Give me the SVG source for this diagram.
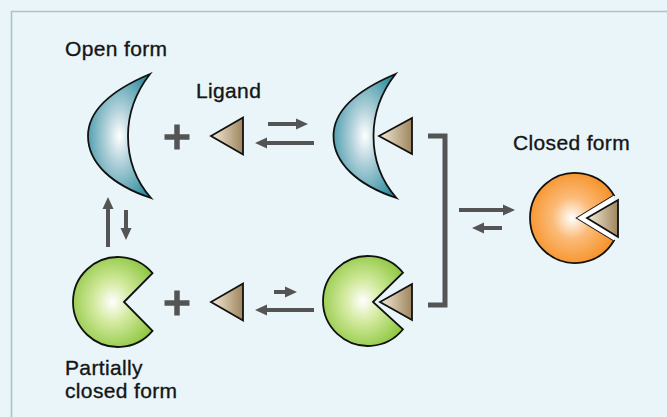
<svg xmlns="http://www.w3.org/2000/svg" width="667" height="417" viewBox="0 0 667 417">
  <style>
    .lbl { font-family: "Liberation Sans", Arial, sans-serif; font-size: 21px; fill: #151515; stroke: #151515; stroke-width: 0.35; letter-spacing: 0.35px; }
    .shape { stroke: #111; stroke-width: 1.8; stroke-linejoin: miter; }
    .lig { fill: url(#ligGrad); stroke: #111; stroke-width: 1.8; stroke-linejoin: miter; }
    .arr { stroke: #545454; stroke-width: 4; fill: none; marker-end: url(#head); }
    .plus { stroke: #545454; stroke-width: 5.5; fill: none; }
  </style>
  <defs>
    <radialGradient id="tealGrad" cx="0.5" cy="0.5" r="0.62">
      <stop offset="0" stop-color="#ffffff"/>
      <stop offset="0.35" stop-color="#b3d2db"/>
      <stop offset="1" stop-color="#2a8b9d"/>
    </radialGradient>
    <radialGradient id="greenGrad" cx="0.5" cy="0.5" r="0.58">
      <stop offset="0" stop-color="#ffffff"/>
      <stop offset="0.4" stop-color="#d3ea9f"/>
      <stop offset="1" stop-color="#8cc63e"/>
    </radialGradient>
    <radialGradient id="orangeGrad" cx="0.5" cy="0.5" r="0.58">
      <stop offset="0" stop-color="#ffffff"/>
      <stop offset="0.4" stop-color="#fbbb78"/>
      <stop offset="1" stop-color="#f68d1f"/>
    </radialGradient>
    <linearGradient id="ligGrad" x1="0" y1="0" x2="1" y2="0">
      <stop offset="0" stop-color="#f5ead8"/>
      <stop offset="1" stop-color="#9e865e"/>
    </linearGradient>
    <marker id="head" viewBox="0 0 12 12" refX="6" refY="6" markerWidth="12" markerHeight="12" markerUnits="userSpaceOnUse" orient="auto">
      <path d="M0,0.5 L12,6 L0,11.5 Z" fill="#545454"/>
    </marker>
  </defs>

  <!-- background and panel frame -->
  <rect x="0" y="0" width="667" height="417" fill="#e9f5f8"/>
  <path d="M11.5,430 V11.5 H680" fill="none" stroke="#afc2cb" stroke-width="1.6"/>

  <!-- labels -->
  <g id="labels">
    <text class="lbl" x="65" y="56">Open form</text>
    <text class="lbl" x="196" y="98">Ligand</text>
    <text class="lbl" x="513" y="150">Closed form</text>
    <text class="lbl" x="65" y="375">Partially</text>
    <text class="lbl" x="65" y="398">closed form</text>
  </g>

  <!-- open form + free ligand -->
  <g id="open-form">
    <path class="shape" fill="url(#tealGrad)" d="M150,74 C112,90 88,110 88,136 C88,163 112,185 151,198 C136,181 128,160 128,136 C128,112 136,92 150,74 Z"/>
  </g>
  <g id="plus-top"><path class="plus" d="M164.5,137 H189.5 M177,124.5 V149.5"/></g>
  <g id="ligand-top"><polygon class="lig" points="211,136 243,117.5 243,154.5"/></g>

  <!-- open form with bound ligand -->
  <g id="open-bound">
    <path class="shape" fill="url(#tealGrad)" transform="translate(245.5,0)" d="M150,74 C112,90 88,110 88,136 C88,163 112,185 151,198 C136,181 128,160 128,136 C128,112 136,92 150,74 Z"/>
    <polygon class="lig" points="379,136 412,118 412,154"/>
  </g>

  <!-- partially closed form + free ligand -->
  <g id="partial-form">
    <path class="shape" fill="url(#greenGrad)" d="M124,302 L152.5,273.1 A45,45 0 1 0 152.5,330.9 Z"/>
  </g>
  <g id="plus-bottom"><path class="plus" d="M164.5,303 H189.5 M177,290.5 V315.5"/></g>
  <g id="ligand-bottom"><polygon class="lig" points="211,302 243,283.5 243,320.5"/></g>

  <!-- partially closed form with bound ligand -->
  <g id="partial-bound">
    <path class="shape" fill="url(#greenGrad)" d="M373,302 L403,272.7 A45,45 0 1 0 403,329.3 Z"/>
    <polygon class="lig" points="380,302 412,284 412,320"/>
  </g>

  <!-- closed form with ligand -->
  <g id="closed-form">
    <path class="shape" fill="url(#orangeGrad)" d="M577,218 L614,195.5 A45,45 0 1 0 614,240.5 Z"/>
    <polygon points="577,218 614,195.5 614,240.5" fill="#ffffff"/>
    <polygon class="lig" points="587,218 618,200 618,237"/>
  </g>

  <!-- equilibrium arrows and bracket -->
  <g id="connectors">
    <line class="arr" x1="268" y1="124" x2="302" y2="124"/>
    <line class="arr" x1="314" y1="143" x2="261" y2="143"/>
    <line class="arr" x1="108" y1="247" x2="108" y2="203"/>
    <line class="arr" x1="126" y1="210" x2="126" y2="234"/>
    <line class="arr" x1="274" y1="292" x2="291" y2="292"/>
    <line class="arr" x1="314" y1="310" x2="261" y2="310"/>
    <line class="arr" x1="459" y1="210" x2="509" y2="210"/>
    <line class="arr" x1="502" y1="228" x2="478" y2="228"/>
    <path d="M428,136 H445 V305 H428" fill="none" stroke="#545454" stroke-width="5" stroke-linejoin="miter"/>
  </g>
</svg>
